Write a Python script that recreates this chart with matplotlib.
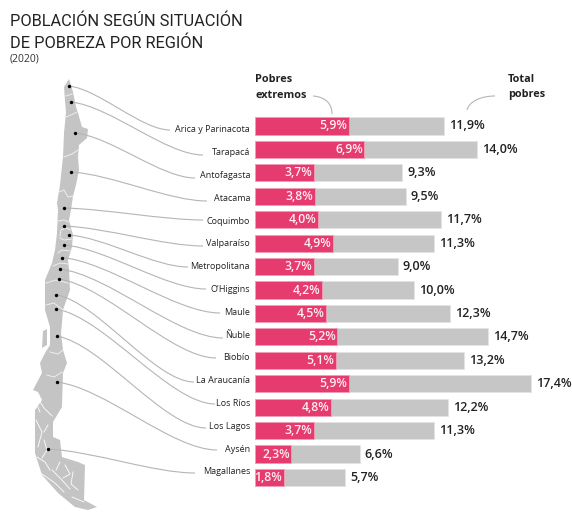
import numpy as np
import matplotlib.pyplot as plt
from matplotlib.patches import PathPatch, Polygon
from matplotlib.path import Path

regiones = ['Arica y Parinacota', 'Tarapacá', 'Antofagasta', 'Atacama', 'Coquimbo', 'Valparaíso',
            'Metropolitana', "O'Higgins", 'Maule', 'Ñuble', 'Biobío', 'La Araucanía', 'Los Ríos',
            'Los Lagos', 'Aysén', 'Magallanes']
extremos = [5.9, 6.9, 3.7, 3.8, 4.0, 4.9, 3.7, 4.2, 4.5, 5.2, 5.1, 5.9, 4.8, 3.7, 2.3, 1.8]
totales = [11.9, 14.0, 9.3, 9.5, 11.7, 11.3, 9.0, 10.0, 12.3, 14.7, 13.2, 17.4, 12.2, 11.3, 6.6, 5.7]

# map silhouette, in picture pixels
mapa = [(69, 79), (71, 85), (73, 92), (76, 107), (78, 113), (82, 127), (88, 129), (87, 138), (79, 145),
        (78, 157), (79, 170), (76, 185), (73, 196), (71, 210), (69, 220), (73, 235), (72, 247), (68, 260),
        (69, 270), (70, 290), (63, 310), (62, 323), (61, 333), (63, 350), (67, 363), (63, 373), (62, 407),
        (53, 422), (53, 437), (60, 440), (62, 457), (78, 462), (85, 465), (84, 500), (97, 507), (88, 510),
        (75, 507), (58, 493), (42, 475), (35, 453), (35, 410), (42, 400), (38, 392), (33, 390), (42, 373),
        (40, 363), (45, 353), (50, 345), (50, 327), (45, 310), (45, 280), (52, 263), (55, 250), (57, 233),
        (58, 210), (57, 203), (60, 185), (63, 157), (64, 133), (66, 113), (64, 87)]
chiloe = [(43, 331), (47, 329), (47, 345), (42, 348)]

# borders between regions
limites = [[(66, 96), (72, 94)], [(66, 117), (71, 115), (77, 112)], [(64, 157), (72, 154), (78, 150)],
           [(59, 192), (64, 190), (68, 197), (73, 196)], [(58, 221), (64, 220), (69, 222)],
           [(60, 236), (61, 230), (66, 228), (71, 230)], [(60, 238), (64, 240), (72, 239)],
           [(58, 253), (62, 250), (70, 251)], [(53, 266), (60, 263), (68, 264)],
           [(46, 283), (56, 280), (68, 283)], [(46, 305), (54, 303), (63, 310)],
           [(50, 352), (58, 354), (63, 350)], [(47, 375), (54, 377), (62, 372)]]
fiordos = [[(40, 402), (44, 408), (52, 416)], [(36, 420), (42, 432), (38, 447)], [(37, 457), (45, 462), (50, 470)],
           [(42, 474), (55, 483), (64, 492)], [(52, 470), (60, 478), (70, 489)], [(65, 465), (70, 474), (63, 478)],
           [(73, 472), (71, 484), (78, 490)], [(44, 440), (47, 450), (42, 458)], [(60, 462), (56, 470)],
           [(72, 497), (84, 502)], [(36, 402), (40, 412)], [(48, 425), (44, 432)]]

puntos = [(69, 86), (71, 102), (75, 133), (71, 172), (64, 208), (64, 226), (69, 235), (64, 245), (62, 257.5),
          (59.5, 269), (58.5, 279), (56, 294.7), (56, 309), (56.5, 336), (56.5, 382), (47.5, 449)]
finales = [(170, 130), (203, 155), (195, 178), (207, 201), (203, 220), (203, 246), (188, 267), (206, 289),
           (220, 313), (223, 338), (216, 358), (194, 382), (215, 404), (206, 428), (217, 450), (195, 473)]

esc = 15.86  # px per percentage point
fila = 23.43
y0 = 126 - fila / 2

plt.rcParams['font.family'] = ['Open Sans', 'DejaVu Sans']

fig = plt.figure(figsize=(5.72, 5.13), dpi=100)

# pixel layer for map, leaders and titles
fondo = fig.add_axes([0, 0, 1, 1])
fondo.set_xlim(0, 572)
fondo.set_ylim(513, 0)
fondo.axis('off')

fondo.add_patch(Polygon(mapa, closed=True, fc='#c4c4c4', ec='none'))
fondo.add_patch(Polygon(chiloe, closed=True, fc='#c4c4c4', ec='none'))
for l in limites:
    fondo.plot(*zip(*l), color='#eeeeee', lw=0.7)
for l in fiordos:
    fondo.plot(*zip(*l), color='white', lw=0.6)

for (x, y), (xf, yf) in zip(puntos, finales):
    dx = xf - x
    dy = yf - y
    curva = Path([(x, y), (x + 0.3 * dx, y + 0.08 * dy), (x + 0.72 * dx, yf), (xf, yf)],
                 [Path.MOVETO, Path.CURVE4, Path.CURVE4, Path.CURVE4])
    fondo.add_patch(PathPatch(curva, fc='none', ec='#b5b5b5', lw=0.8))
fondo.scatter(*zip(*puntos), s=6, color='black', zorder=3, linewidths=0)

fondo.text(10, 21, 'POBLACIÓN SEGÚN SITUACIÓN', fontsize=11.8, family='Roboto', color='#222222', va='center')
fondo.text(10, 43, 'DE POBREZA POR REGIÓN', fontsize=11.8, family='Roboto', color='#222222', va='center')
fondo.text(10, 59, '(2020)', fontsize=7.5, color='#333333', va='center')

fondo.text(255, 79, 'Pobres', fontsize=7.8, fontweight='bold', color='#222222', va='center')
fondo.text(255, 95, 'extremos', fontsize=7.8, fontweight='bold', color='#222222', va='center')
fondo.text(508, 79, 'Total', fontsize=7.8, fontweight='bold', color='#222222', va='center')
fondo.text(508, 95, 'pobres', fontsize=7.8, fontweight='bold', color='#222222', va='center')
fondo.add_patch(PathPatch(Path([(313, 96), (326, 97), (332, 104), (332, 114)],
                               [Path.MOVETO, Path.CURVE4, Path.CURVE4, Path.CURVE4]),
                          fc='none', ec='#b5b5b5', lw=0.8))
fondo.add_patch(PathPatch(Path([(495, 96), (480, 96), (469, 102), (467, 110)],
                               [Path.MOVETO, Path.CURVE4, Path.CURVE4, Path.CURVE4]),
                          fc='none', ec='#b5b5b5', lw=0.8))

for i, r in enumerate(regiones):
    fondo.text(250, 130 + 22.8 * i, r, fontsize=6.5, color='#222222', ha='right', va='center')

# bars, in real data units
ax = fig.add_axes([255 / 572, 1 - (y0 + 16 * fila) / 513, (572 - 255) / 572, 16 * fila / 513])
ax.set_xlim(0, (572 - 255) / esc)
ax.set_ylim(15.5, -0.5)
ax.axis('off')
ax.patch.set_alpha(0)

y = np.arange(len(regiones))
ax.barh(y, totales, height=0.73, color='#c6c6c6', edgecolor='#e4e4e4', linewidth=0.6)
ax.barh(y, extremos, height=0.73, color='#e63b6f', edgecolor='#f2a0b8', linewidth=0.6)

for i in y:
    ax.annotate(f'{extremos[i]:.1f}%'.replace('.', ','), (extremos[i], i), xytext=(-1.2, 0),
                textcoords='offset points', ha='right', va='center',
                fontsize=8.8, fontweight='semibold', color='#fdeef2')
    ax.annotate(f'{totales[i]:.1f}%'.replace('.', ','), (totales[i], i), xytext=(3.6, 0),
                textcoords='offset points', ha='left', va='center',
                fontsize=9, fontweight='semibold', color='#222222', annotation_clip=False)

plt.savefig('out.png', dpi=100)
